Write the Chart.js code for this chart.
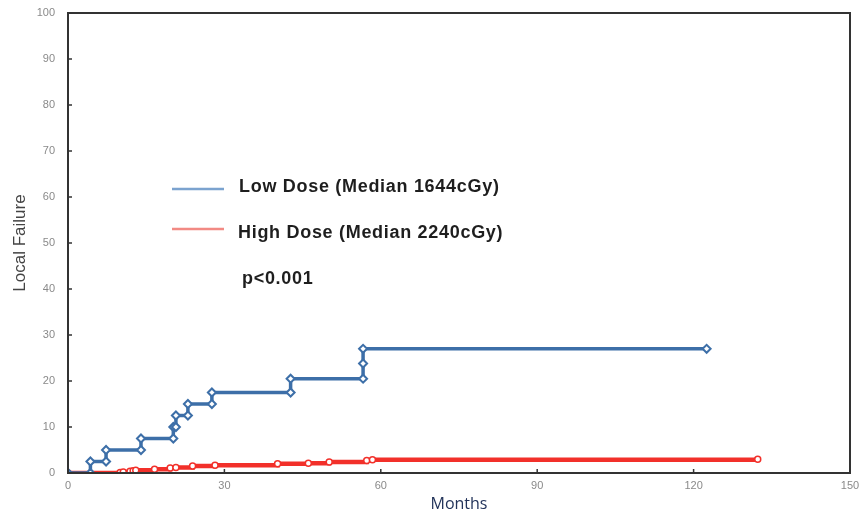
<!DOCTYPE html>
<html>
<head>
<meta charset="utf-8">
<script src="https://cdn.jsdelivr.net/npm/chart.js@4"></script>
<style>
  html, body { margin: 0; padding: 0; background: #fff; }
  #wrap { width: 863px; height: 516px; }
</style>
</head>
<body>
<div id="wrap"><canvas id="km"></canvas></div>
<script>
// Kaplan-Meier style local failure curves.
const lowMonths  = [0, 4.3, 4.3, 7.3, 7.3, 14, 14, 20.2, 20.2, 20.7, 20.7, 23, 23, 27.6, 27.6, 42.7, 42.7, 56.6, 56.6, 56.6, 122.5];
const lowFailure = [0, 0, 2.5, 2.5, 5, 5, 7.5, 7.5, 10, 10, 12.5, 12.5, 15, 15, 17.5, 17.5, 20.5, 20.5, 23.8, 27, 27];

const highMonths  = [0, 10, 10.6, 11.9, 12.5, 13, 16.6, 19.6, 20.7, 23.9, 28.2, 40.2, 46.1, 50.1, 57.3, 58.4, 132.3];
const highFailure = [0, 0.1, 0.2, 0.4, 0.5, 0.6, 0.8, 1.1, 1.2, 1.5, 1.7, 2.0, 2.1, 2.4, 2.7, 2.9, 3.0];

const xTicks = [0, 30, 60, 90, 120, 150];
const yTicks = [0, 10, 20, 30, 40, 50, 60, 70, 80, 90, 100];

const legendLabels = ["Low Dose (Median 1644cGy)", "High Dose (Median 2240cGy)"];
const pValueText = "p<0.001";

function toPoints(xs, ys) {
  return xs.map((x, i) => ({ x: x, y: ys[i] }));
}

// Draws the black frame, inward tick marks and the in-plot legend.
const framePlugin = {
  id: "frame",
  afterDraw(chart) {
    const { ctx, chartArea: a, scales } = chart;
    ctx.save();
    ctx.strokeStyle = "#333";
    ctx.lineWidth = 2;
    ctx.strokeRect(a.left, a.top, a.right - a.left, a.bottom - a.top);

    ctx.lineWidth = 1.5;
    ctx.beginPath();
    xTicks.forEach(v => {
      const px = scales.x.getPixelForValue(v);
      ctx.moveTo(px, a.bottom);
      ctx.lineTo(px, a.bottom - 4);
    });
    yTicks.forEach(v => {
      const py = scales.y.getPixelForValue(v);
      ctx.moveTo(a.left, py);
      ctx.lineTo(a.left + 4, py);
    });
    ctx.stroke();

    // legend block
    ctx.lineWidth = 2.5;
    ctx.strokeStyle = "#7ba3cf";
    ctx.beginPath();
    ctx.moveTo(172, 189);
    ctx.lineTo(224, 189);
    ctx.stroke();
    ctx.strokeStyle = "#f28a84";
    ctx.beginPath();
    ctx.moveTo(172, 229);
    ctx.lineTo(224, 229);
    ctx.stroke();

    ctx.fillStyle = "#1e1e1e";
    ctx.font = "bold 18px 'Liberation Sans', Arial, sans-serif";
    ctx.letterSpacing = "0.7px";
    ctx.textBaseline = "middle";
    ctx.fillText(legendLabels[0], 239, 187);
    ctx.fillText(legendLabels[1], 238, 233);
    ctx.fillText(pValueText, 242, 279);
    ctx.restore();
  }
};

new Chart(document.getElementById("km"), {
  type: "line",
  data: {
    datasets: [
      {
        label: legendLabels[0],
        data: toPoints(lowMonths, lowFailure),
        borderColor: "#3d6fa8",
        borderWidth: 3.5,
        stepped: true,
        pointStyle: "rectRot",
        pointRadius: 4,
        pointBorderWidth: 2,
        pointBackgroundColor: "#fff",
        pointBorderColor: "#3d6fa8"
      },
      {
        label: legendLabels[1],
        data: toPoints(highMonths, highFailure),
        borderColor: "#f2302a",
        borderWidth: 4.5,
        stepped: true,
        pointStyle: "circle",
        pointRadius: 3,
        pointBorderWidth: 1.5,
        pointBackgroundColor: "#fff",
        pointBorderColor: "#f2302a"
      }
    ]
  },
  options: {
    responsive: true,
    maintainAspectRatio: false,
    animation: false,
    layout: { padding: { top: 13, right: 13, left: 0, bottom: 2 } },
    plugins: { legend: { display: false }, tooltip: { enabled: false } },
    scales: {
      x: {
        type: "linear",
        min: 0,
        max: 150,
        afterBuildTicks: s => { s.ticks = xTicks.map(v => ({ value: v })); },
        afterFit: s => { s.height = 41; s.paddingLeft = 0; s.paddingRight = 0; },
        grid: { display: false, drawTicks: false },
        border: { display: false },
        ticks: { color: "#8a8a8a", font: { size: 11, family: "'Liberation Sans', Arial" }, padding: 6, maxRotation: 0 },
        title: { display: true, text: "Months", color: "#22335a", font: { size: 16, family: "'Open Sans', sans-serif" }, padding: { top: 0, bottom: 0 } }
      },
      y: {
        min: 0,
        max: 100,
        afterBuildTicks: s => { s.ticks = yTicks.map(v => ({ value: v })); },
        afterFit: s => { s.width = 68; s.paddingTop = 0; s.paddingBottom = 0; },
        grid: { display: false, drawTicks: false },
        border: { display: false },
        ticks: { color: "#8a8a8a", font: { size: 11, family: "'Liberation Sans', Arial" }, padding: 13 },
        title: { display: true, text: "Local Failure", color: "#444", font: { size: 17, family: "'Liberation Sans', Arial" }, padding: { top: 10, bottom: 0 } }
      }
    }
  },
  plugins: [framePlugin]
});
</script>
</body>
</html>
